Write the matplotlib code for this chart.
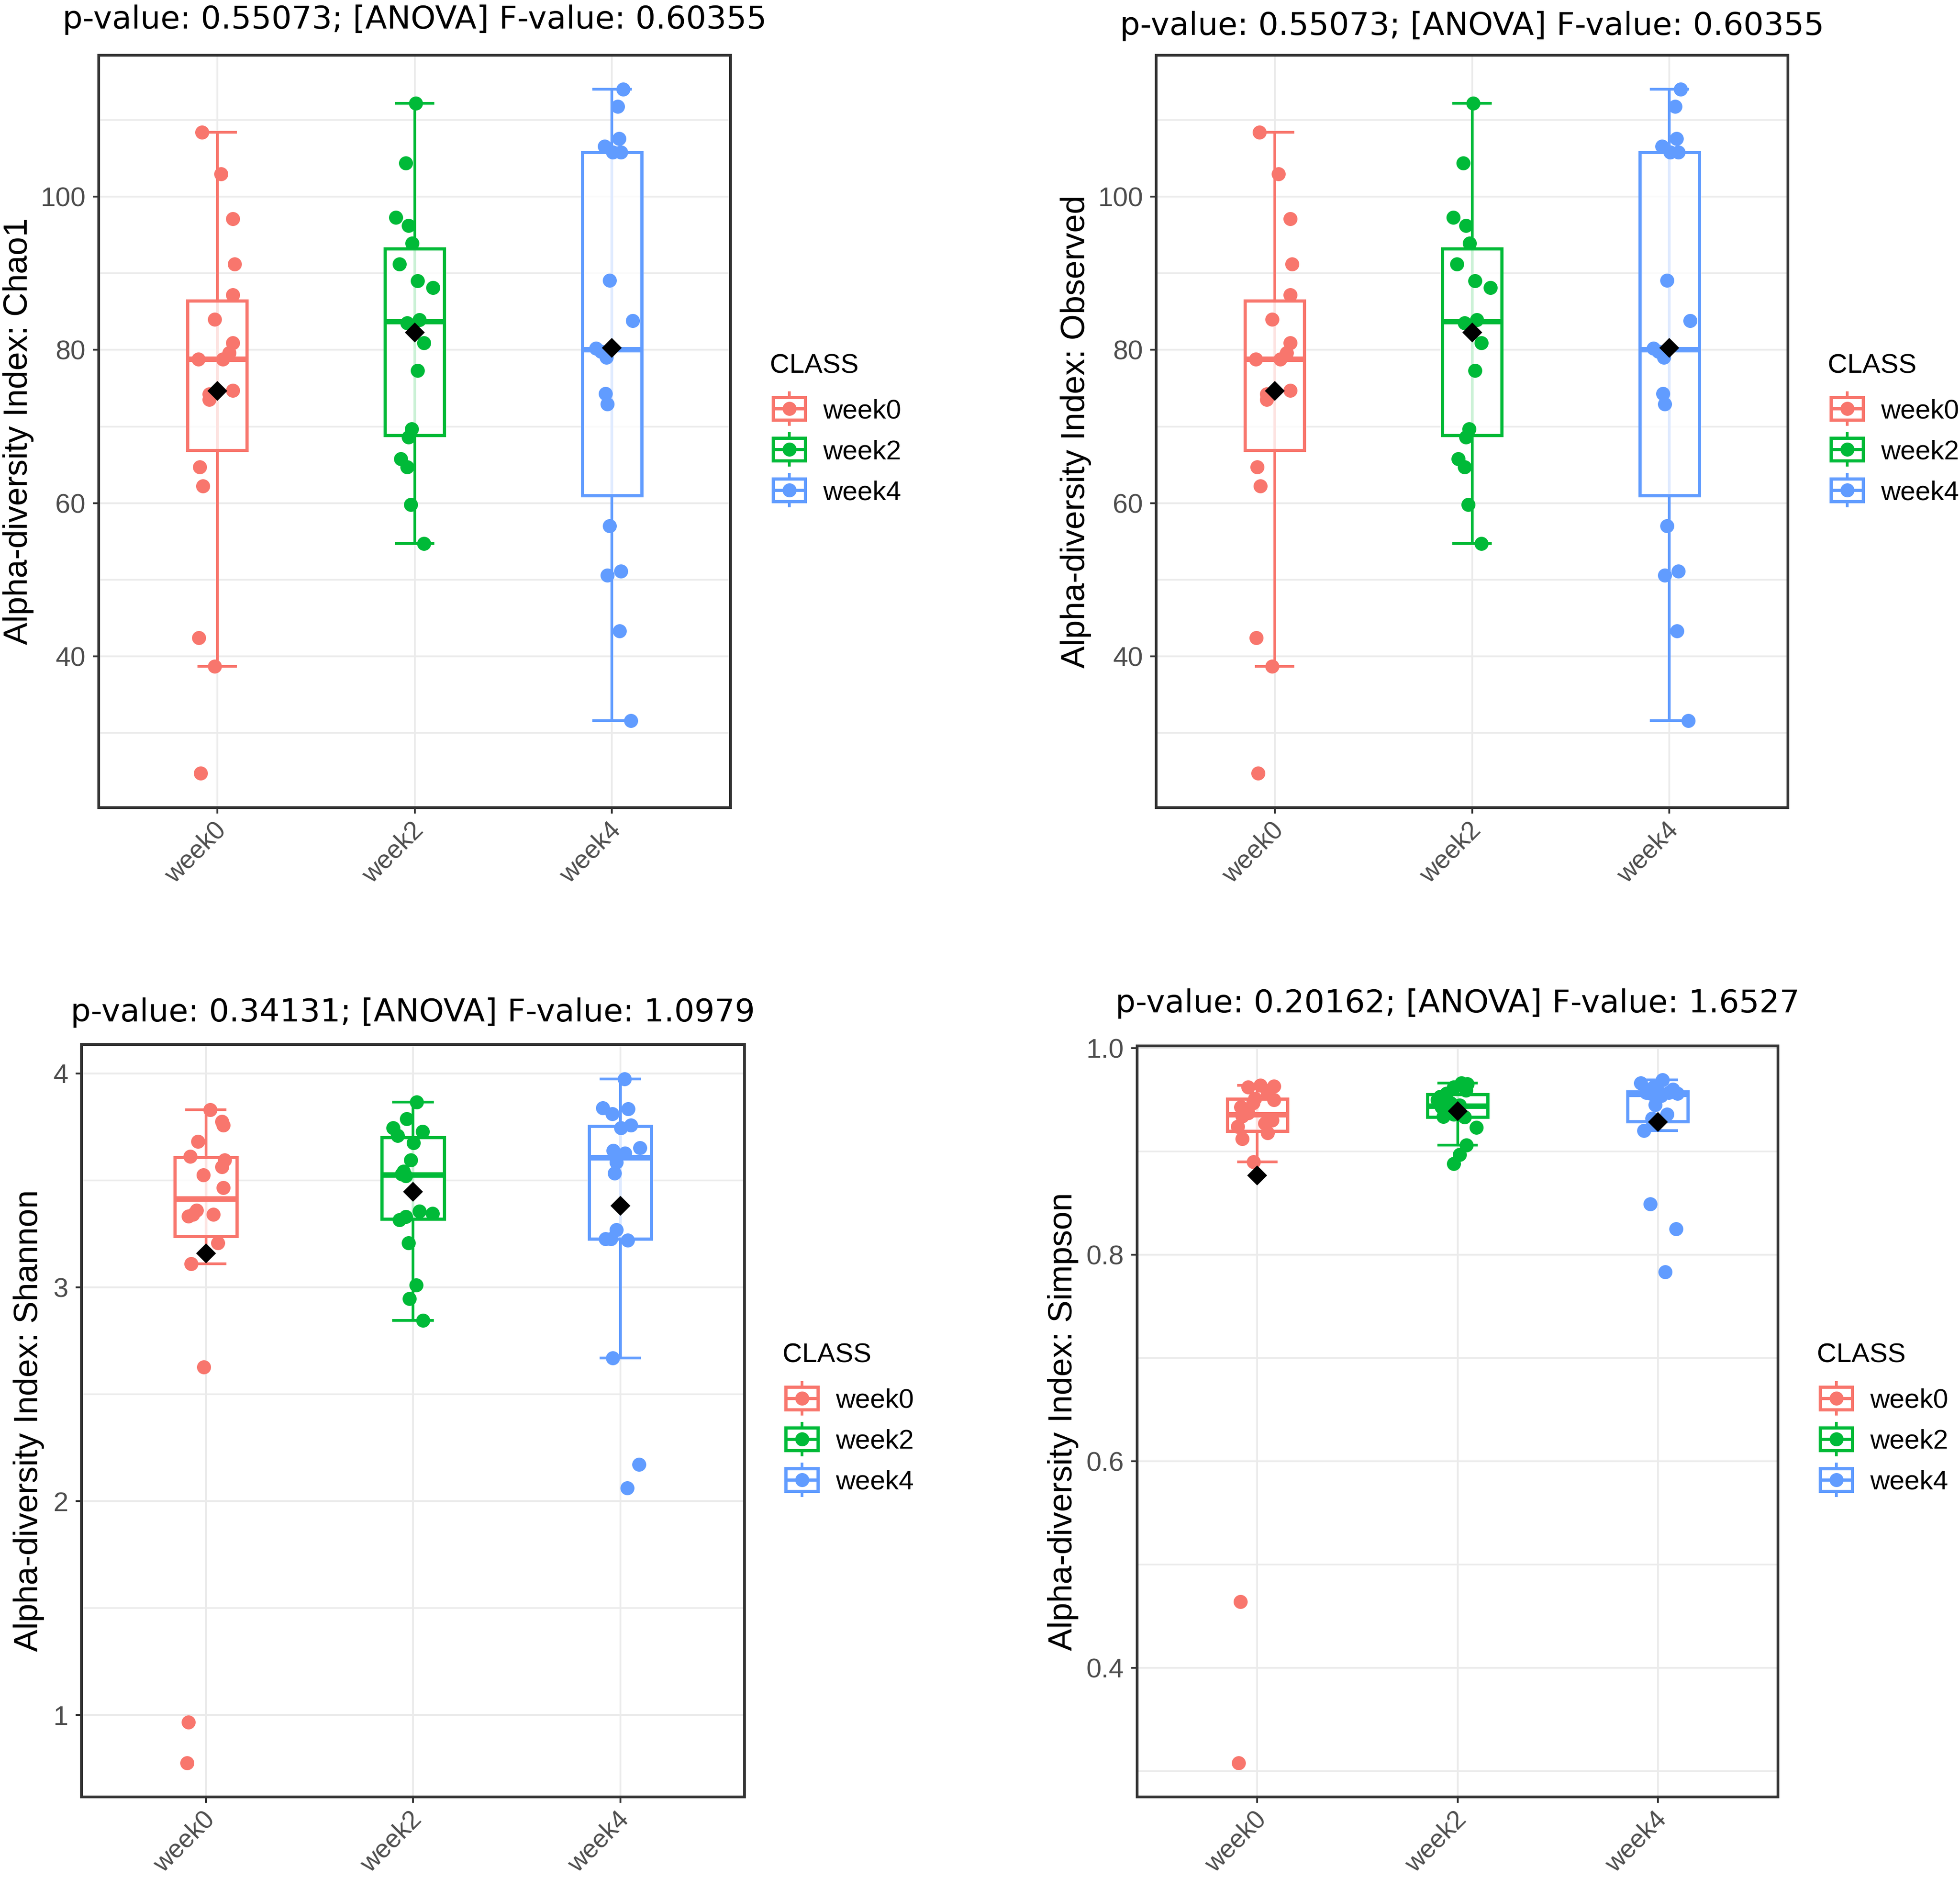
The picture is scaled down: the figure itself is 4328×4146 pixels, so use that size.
import numpy as np
import matplotlib
matplotlib.use("Agg")
import matplotlib.pyplot as plt
from matplotlib import cbook
from matplotlib import transforms as mtransforms
from matplotlib.ticker import MultipleLocator
from matplotlib.patches import Rectangle

plt.rcParams['font.family'] = ['Liberation Sans', 'DejaVu Sans']

W, H, DPI = 4328, 4146, 100
PX = 72.0 / DPI  # points per pixel

# ---------------- data ----------------
groups = ["week0", "week2", "week4"]
group_colors = ["#F8766D", "#00BA38", "#619CFF"]
legend_title = "CLASS"

# Chao1 (the Observed panel shows identical values)
chao1_week0 = [108.4, 103.0, 97.1, 91.2, 87.2, 84.0, 80.9, 79.6, 78.8, 78.8,
               74.7, 74.2, 73.5, 64.7, 62.2, 42.4, 38.7, 24.7]
chao1_week0_jit = [-0.076, 0.019, 0.079, 0.089, 0.079, -0.013, 0.079, 0.060, 0.028, -0.095,
                   0.079, -0.041, -0.041, -0.089, -0.073, -0.092, -0.013, -0.085]
chao1_week2 = [112.2, 104.4, 97.3, 96.2, 93.9, 91.2, 89.0, 88.1, 83.9, 83.5,
               80.9, 77.3, 69.7, 68.6, 65.8, 64.7, 59.8, 54.7]
chao1_week2_jit = [0.006, -0.044, -0.095, -0.032, -0.013, -0.076, 0.016, 0.092, 0.025, -0.038,
                   0.047, 0.016, -0.016, -0.032, -0.070, -0.038, -0.019, 0.047]
chao1_week4 = [114.0, 111.8, 107.6, 106.6, 105.8, 105.8, 89.1, 83.8, 80.2, 79.8,
               79.0, 74.3, 72.9, 57.0, 51.1, 50.6, 43.3, 31.6]
chao1_week4_jit = [0.057, 0.028, 0.035, -0.038, 0.003, 0.044, -0.013, 0.104, -0.082, -0.057,
                   -0.028, -0.032, -0.025, -0.013, 0.044, -0.025, 0.038, 0.095]

observed_week0, observed_week0_jit = chao1_week0, chao1_week0_jit
observed_week2, observed_week2_jit = chao1_week2, chao1_week2_jit
observed_week4, observed_week4_jit = chao1_week4, chao1_week4_jit

shannon_week0 = [3.830, 3.774, 3.757, 3.682, 3.612, 3.595, 3.564, 3.525, 3.466, 3.360,
                 3.341, 3.340, 3.332, 3.207, 3.109, 2.626, 0.967, 0.777]
shannon_week0_jit = [0.021, 0.078, 0.084, -0.039, -0.075, 0.090, 0.078, -0.012, 0.084, -0.045,
                     0.036, -0.063, -0.084, 0.057, -0.072, -0.009, -0.084, -0.090]
shannon_week2 = [3.866, 3.788, 3.746, 3.729, 3.709, 3.676, 3.595, 3.542, 3.530, 3.520,
                 3.355, 3.344, 3.330, 3.316, 3.207, 3.011, 2.947, 2.846]
shannon_week2_jit = [0.018, -0.030, -0.096, 0.045, -0.075, 0.003, -0.012, -0.045, -0.054, -0.036,
                     0.030, 0.093, -0.036, -0.066, -0.021, 0.015, -0.018, 0.048]
shannon_week4 = [3.975, 3.838, 3.835, 3.810, 3.757, 3.746, 3.651, 3.640, 3.626, 3.584,
                 3.534, 3.268, 3.226, 3.226, 3.221, 2.670, 2.172, 2.061]
shannon_week4_jit = [0.021, -0.084, 0.039, -0.039, 0.051, 0.003, 0.096, -0.033, 0.024, -0.018,
                     -0.027, -0.018, -0.072, -0.045, 0.036, -0.036, 0.090, 0.033]

simpson_week0 = [0.964, 0.963, 0.962, 0.956, 0.951, 0.950, 0.947, 0.943, 0.937, 0.934,
                 0.930, 0.927, 0.924, 0.918, 0.912, 0.890, 0.464, 0.308]
simpson_week0_jit = [0.015, 0.082, -0.045, 0.052, -0.011, 0.082, -0.022, -0.082, -0.045, -0.075,
                     0.075, 0.037, -0.097, 0.052, -0.075, -0.019, -0.084, -0.094]
simpson_week2 = [0.966, 0.965, 0.962, 0.959, 0.956, 0.953, 0.950, 0.947, 0.9445, 0.943,
                 0.940, 0.936, 0.9335, 0.933, 0.923, 0.906, 0.897, 0.888]
simpson_week2_jit = [0.019, 0.049, -0.019, 0.041, -0.056, -0.086, -0.100, -0.035, 0.010, -0.080,
                     -0.050, -0.020, -0.071, 0.034, 0.094, 0.045, 0.011, -0.019]
simpson_week4 = [0.969, 0.966, 0.962, 0.960, 0.958, 0.957, 0.957, 0.956, 0.956, 0.954,
                 0.945, 0.936, 0.932, 0.928, 0.920, 0.849, 0.825, 0.783]
simpson_week4_jit = [0.024, -0.085, -0.021, 0.076, 0.000, -0.058, 0.054, 0.099, -0.036, 0.016,
                     -0.013, 0.046, -0.028, -0.025, -0.070, -0.037, 0.091, 0.037]

titles = ["p-value: 0.55073; [ANOVA] F-value: 0.60355",
          "p-value: 0.55073; [ANOVA] F-value: 0.60355",
          "p-value: 0.34131; [ANOVA] F-value: 1.0979",
          "p-value: 0.20162; [ANOVA] F-value: 1.6527"]
ylabels = ["Alpha-diversity Index: Chao1",
           "Alpha-diversity Index: Observed",
           "Alpha-diversity Index: Shannon",
           "Alpha-diversity Index: Simpson"]

panel_values = [
    ([chao1_week0, chao1_week2, chao1_week4], [chao1_week0_jit, chao1_week2_jit, chao1_week4_jit]),
    ([observed_week0, observed_week2, observed_week4], [observed_week0_jit, observed_week2_jit, observed_week4_jit]),
    ([shannon_week0, shannon_week2, shannon_week4], [shannon_week0_jit, shannon_week2_jit, shannon_week4_jit]),
    ([simpson_week0, simpson_week2, simpson_week4], [simpson_week0_jit, simpson_week2_jit, simpson_week4_jit]),
]
y_steps = [20, 20, 1, 0.2]

# ---------------- layout (pixels) ----------------
axes_px = [(218, 122, 1613, 1783),
           (2553, 122, 3948, 1783),
           (180, 2306, 1644, 3967),
           (2511, 2309, 3926, 3967)]
title_base = [63, 77, 2255, 2235]
ylabel_x = [41, 2376, 64, 2348]
legend_pos = [(1700, 823, 1707, [902, 992, 1082], 1817),
              (4036, 823, 4043, [902, 992, 1082], 4153),
              (1728, 3008, 1735, [3087, 3177, 3267], 1845),
              (4012, 3008, 4019, [3087, 3177, 3267], 4129)]

FS_TITLE = 50.5
FS_YLAB = 53
FS_TICK = 43
FS_XTICK = 41
FS_LEG = 43
LW_BOX = 7 * PX
LW_MED = 12 * PX
LW_WH = 6 * PX
PT_S = (31 * PX) ** 2
MEAN_MS = 44 * PX / np.sqrt(2)
BOXW = 0.30
CAPW = 0.20
GRID_MAJ = 4 * PX
GRID_MIN = 3.5 * PX
SPINE_C = "#333333"

fig = plt.figure(figsize=(W / DPI, H / DPI), dpi=DPI)
fig.patch.set_facecolor("white")


def rect(l, t, r, b):
    return [l / W, 1 - b / H, (r - l) / W, (b - t) / H]


def draw_panel(ax, values, jits, step):
    pos = np.arange(1, len(groups) + 1)
    stats = [cbook.boxplot_stats(np.asarray(v), whis=1.5)[0] for v in values]
    for p, st, c in zip(pos, stats, group_colors):
        ax.vlines(p, st["whislo"], st["whishi"], colors=c, lw=LW_WH, zorder=2)
        ax.hlines([st["whislo"], st["whishi"]], p - CAPW / 2, p + CAPW / 2,
                  colors=c, lw=LW_WH, zorder=2)
    art = ax.bxp(stats, positions=pos, widths=BOXW, patch_artist=True,
                 showfliers=False, showcaps=False, manage_ticks=False, zorder=3)
    for box, med, c in zip(art["boxes"], art["medians"], group_colors):
        box.set_facecolor((1, 1, 1, 0.8))
        box.set_edgecolor(c)
        box.set_linewidth(LW_BOX)
        med.set_color(c)
        med.set_linewidth(LW_MED)
        med.set_solid_capstyle("butt")
    for w in art["whiskers"]:
        w.set_visible(False)
    for p, v, j, c in zip(pos, values, jits, group_colors):
        ax.scatter(p + np.asarray(j), v, s=PT_S, color=c, linewidths=0, zorder=4)
        ax.plot([p], [np.mean(v)], marker="D", ms=MEAN_MS, color="black",
                mec="black", mew=0, zorder=5)
    allv = np.concatenate([np.asarray(v) for v in values])
    lo, hi = allv.min(), allv.max()
    r = hi - lo
    ax.set_ylim(lo - 0.05 * r, hi + 0.05 * r)
    ax.set_xlim(0.4, len(groups) + 0.6)
    ax.yaxis.set_major_locator(MultipleLocator(step))
    ax.yaxis.set_minor_locator(MultipleLocator(step / 2))
    ax.set_xticks(pos)
    ax.tick_params(axis="x", labelbottom=False)
    ax.tick_params(axis="both", which="major", length=13 * PX, width=4 * PX,
                   color=SPINE_C, labelcolor="#4D4D4D", labelsize=FS_TICK)
    ax.tick_params(axis="y", which="major", pad=16 * PX)
    ax.tick_params(which="minor", length=0)
    # rotated category labels hanging below each tick
    base = mtransforms.blended_transform_factory(ax.transData, ax.transAxes)
    trans = mtransforms.offset_copy(base, fig=fig, x=11, y=-42, units="dots")
    for p, g in zip(pos, groups):
        ax.text(p, 0, g, transform=trans, rotation=45, rotation_mode="anchor",
                ha="right", va="center", fontsize=FS_XTICK, color="#4D4D4D",
                clip_on=False)
    ax.grid(True, which="major", color="#EBEBEB", lw=GRID_MAJ)
    ax.grid(True, which="minor", axis="y", color="#EBEBEB", lw=GRID_MIN)
    ax.set_axisbelow(True)
    for s in ax.spines.values():
        s.set_color(SPINE_C)
        s.set_linewidth(6 * PX)


for i in range(4):
    l, t, r, b = axes_px[i]
    ax = fig.add_axes(rect(l, t, r, b))
    vals, jits = panel_values[i]
    draw_panel(ax, vals, jits, y_steps[i])

# overlay in pixel coordinates for titles, y labels and legends
lax = fig.add_axes([0, 0, 1, 1])
lax.set_xlim(0, W)
lax.set_ylim(H, 0)
lax.axis("off")

for i in range(4):
    l, t, r, b = axes_px[i]
    lax.text((l + r) / 2, title_base[i], titles[i], family="DejaVu Sans",
             fontsize=FS_TITLE, ha="center", va="baseline", color="black")
    lax.text(ylabel_x[i], (t + b) / 2, ylabels[i], fontsize=FS_YLAB, rotation=90,
             ha="center", va="center", color="black")
    cx, cy, kl, kys, lx = legend_pos[i]
    lax.text(cx, cy, legend_title, fontsize=FS_LEG, ha="left", va="baseline",
             color="black")
    kw, kh = 71, 50
    for ky, g, c in zip(kys, groups, group_colors):
        kc = kl + kw / 2
        lax.plot([kc, kc], [ky - 38, ky + 38], color=c, lw=LW_WH, zorder=1,
                 solid_capstyle="butt")
        lax.add_patch(Rectangle((kl, ky - kh / 2), kw, kh, facecolor="white",
                                edgecolor=c, lw=LW_BOX, zorder=2))
        lax.plot([kl, kl + kw], [ky, ky], color=c, lw=LW_BOX, zorder=3,
                 solid_capstyle="butt")
        lax.scatter([kc], [ky], s=PT_S, color=c, linewidths=0, zorder=4)
        lax.text(lx, ky + 21, g, fontsize=FS_LEG, ha="left", va="baseline",
                 color="black")

fig.savefig("out.png", dpi=DPI)
